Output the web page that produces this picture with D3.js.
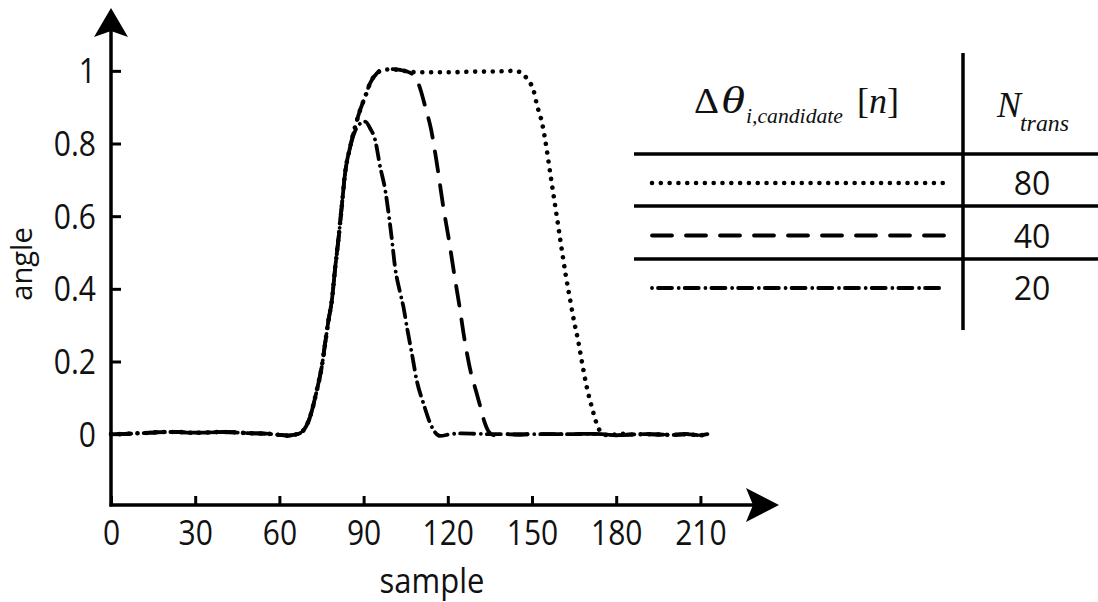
<!DOCTYPE html>
<html>
<head>
<meta charset="utf-8">
<script src="https://cdn.jsdelivr.net/npm/d3@7"></script>
<style>
    html, body { margin: 0; padding: 0; background: #fff; }
    svg { display: block; }
</style>
</head>
<body>
<div id="chart"></div>
<script>
// values
const sampleTicks = [0, 30, 60, 90, 120, 150, 180, 210];
const angleTicks = [0, 0.2, 0.4, 0.6, 0.8, 1];
const nTrans = [80, 40, 20];

const samples80 = [0, 4, 8, 12, 16, 20, 24, 28, 32, 36, 40, 44, 48, 52, 56, 60, 63, 65, 67.4, 70.9,
    73.3, 75.1, 76.3, 77.5, 78.7, 79.9, 81, 82.2, 83.4, 85.2,
    87, 88.8, 90.6, 92.3, 94.7, 97, 100, 103, 106, 110, 115, 120, 125, 130, 135, 140, 143.5, 146.2, 148.5, 150.6,
    151.8, 153.6, 154.7, 156.5, 158.3, 160.1, 161.9, 163.6, 165, 166.5, 168, 169.5, 171.3, 173.7, 175.5, 178, 181, 185, 190, 195,
    200, 205, 210, 212.5];
const angle80 = [0, 0, 0.002, 0.003, 0.005, 0.006, 0.006, 0.004, 0.004, 0.005, 0.006, 0.005, 0.003, 0.002, 0.001, -0.002, -0.004, -0.002, 0.003, 0.047,
    0.12, 0.186, 0.25, 0.314, 0.369, 0.46, 0.534, 0.626, 0.718, 0.79,
    0.847, 0.893, 0.93, 0.966, 0.993, 1.003, 1.004, 1.002, 0.998, 0.996, 0.996, 0.996, 0.997, 0.998, 0.998, 0.999, 1.0, 0.995, 0.975, 0.945,
    0.905, 0.856, 0.81, 0.718, 0.626, 0.534, 0.443, 0.369, 0.31, 0.255, 0.19, 0.13, 0.075, 0.016, 0, -0.004, 0.002, -0.001, 0, -0.001,
    -0.002, 0, -0.003, 0];

const samples40 = [0, 4, 8, 12, 16, 20, 24, 28, 32, 36, 40, 44, 48, 52, 56, 60, 63, 65, 67.4, 70.9,
    73.3, 75.1, 76.3, 77.5, 78.7, 79.9, 81, 82.2, 83.4, 85.2,
    87, 88.8, 90.6, 92.3, 94.7, 97, 100, 103, 105.5, 107.5, 109, 110.2, 112, 114, 116, 118.4, 120.5, 122.3, 124.2, 125.8,
    128.2, 130, 131.6, 133, 134.5, 136.5, 140, 145, 150, 155, 160, 165, 170, 175, 180, 185, 190, 195, 200, 205,
    210, 212.5];
const angle40 = [0, 0, 0.002, 0.003, 0.005, 0.006, 0.006, 0.004, 0.004, 0.005, 0.006, 0.005, 0.003, 0.002, 0.001, -0.002, -0.004, -0.002, 0.003, 0.047,
    0.12, 0.186, 0.25, 0.314, 0.369, 0.46, 0.534, 0.626, 0.718, 0.79,
    0.847, 0.893, 0.93, 0.966, 0.993, 1.003, 1.005, 1.003, 0.998, 0.99, 0.975, 0.95, 0.9, 0.84, 0.75, 0.625, 0.53, 0.44, 0.35, 0.268,
    0.17, 0.12, 0.075, 0.035, 0.008, -0.003, 0, -0.001, 0, 0, 0, 0, 0.001, 0, -0.003, -0.001, 0, -0.001, -0.002, 0,
    -0.003, 0];

const samples20 = [0, 4, 8, 12, 16, 20, 24, 28, 32, 36, 40, 44, 48, 52, 56, 60, 63, 65, 67.4, 70.9,
    73.3, 75.1, 76.3, 77.5, 78.7, 79.9, 81, 82.2, 83.4, 85.2,
    87, 88.8, 90.6, 92.3, 94.1, 95.9, 97.7, 98.9, 100.1, 101.2, 103, 104.2, 105.4, 107.2, 108.9, 111.3, 114.3, 117.3, 120.9, 125,
    130, 135, 140, 145, 150, 155, 160, 165, 170, 175, 180, 185, 190, 195, 200, 205, 210, 212.5];
const angle20 = [0, 0, 0.002, 0.003, 0.005, 0.006, 0.006, 0.004, 0.004, 0.005, 0.006, 0.005, 0.003, 0.002, 0.001, -0.002, -0.004, -0.002, 0.003, 0.047,
    0.12, 0.186, 0.25, 0.314, 0.369, 0.46, 0.534, 0.626, 0.718, 0.79,
    0.835, 0.855, 0.86, 0.842, 0.81, 0.736, 0.672, 0.608, 0.534, 0.46, 0.39, 0.35, 0.296, 0.222, 0.149, 0.085, 0.02, -0.005, 0, 0.002,
    0.001, 0, 0, -0.001, 0, 0, 0, 0, 0.001, 0, -0.003, -0.001, 0, -0.001, -0.002, 0, -0.003, 0];

const width = 1098;
const height = 602;
const font = '"Open Sans", "DejaVu Sans", sans-serif';
const serif = '"Liberation Serif", "DejaVu Serif", serif';

const styles = {
    80: { dash: '0.01 8.8', cap: 'round', w: 4.6 },
    40: { dash: '20 14', cap: 'round', w: 3.8 },
    20: { dash: '0.01 6 14 6.7', cap: 'round', w: 3.8 }
};

const svg = d3.select('#chart')
    .append('svg')
    .attr('width', width)
    .attr('height', height);

const x = d3.scaleLinear()
    .domain([0, 238])
    .range([111, 779]);

const y = d3.scaleLinear()
    .domain([-0.195, 1.173])
    .range([505, 8]);

const x0 = x(0);
const yBase = y.range()[0];

// Axes (ticks point inward)
const yAxis = svg.append('g')
    .attr('transform', `translate(${x0},0)`)
    .call(d3.axisLeft(y).tickValues(angleTicks).tickSizeInner(-10).tickSizeOuter(0).tickPadding(15).tickFormat(d => String(d)));

const xAxis = svg.append('g')
    .attr('transform', `translate(0,${yBase})`)
    .call(d3.axisBottom(x).tickValues(sampleTicks).tickSizeInner(-9).tickSizeOuter(0).tickPadding(19).tickFormat(d => String(d)));

[yAxis, xAxis].forEach(a => {
    a.select('.domain').remove();
    a.selectAll('line').attr('stroke', '#000').attr('stroke-width', 3);
    a.selectAll('text')
        .attr('fill', '#111')
        .style('font-family', font)
        .style('font-size', '30px');
});

// the source figure is slightly stretched vertically
yAxis.selectAll('text')
    .attr('dy', null)
    .attr('transform', 'translate(0,12) scale(1,1.15)');

xAxis.selectAll('text')
    .attr('y', 0)
    .attr('dy', null)
    .attr('transform', 'translate(0,40) scale(1,1.15)');

svg.append('line')
    .attr('x1', x0).attr('x2', x0)
    .attr('y1', yBase + 1.5).attr('y2', y.range()[1] + 20)
    .attr('stroke', '#000').attr('stroke-width', 3.5);

svg.append('line')
    .attr('x1', x0 - 1.5).attr('x2', x.range()[1] - 20)
    .attr('y1', yBase).attr('y2', yBase)
    .attr('stroke', '#000').attr('stroke-width', 3.5);

// Arrow heads
const yTip = y.range()[1];
svg.append('path')
    .attr('d', `M${x0},${yTip} L${x0 + 17},${yTip + 29} L${x0},${yTip + 23} L${x0 - 17},${yTip + 29} Z`)
    .attr('fill', '#000');

const xTip = x.range()[1];
svg.append('path')
    .attr('d', `M${xTip},${yBase} L${xTip - 33},${yBase - 17} L${xTip - 26},${yBase} L${xTip - 33},${yBase + 17} Z`)
    .attr('fill', '#000');

// Axis titles
svg.append('text')
    .attr('transform', `translate(32, 264) rotate(-90) scale(1.04,1.05)`)
    .attr('text-anchor', 'middle')
    .attr('fill', '#111')
    .style('font-family', font)
    .style('font-size', '28px')
    .text('angle');

svg.append('text')
    .attr('transform', 'translate(432,593) scale(1,1.1)')
    .attr('text-anchor', 'middle')
    .attr('fill', '#111')
    .style('font-family', font)
    .style('font-size', '31px')
    .text('sample');

// Curves
const series = [
    { n: 80, s: samples80, v: angle80 },
    { n: 40, s: samples40, v: angle40 },
    { n: 20, s: samples20, v: angle20 }
];

const line = d3.line()
    .x(d => x(d[0]))
    .y(d => y(d[1]))
    .curve(d3.curveMonotoneX);

svg.selectAll('.curve')
    .data(series)
    .enter()
    .append('path')
    .attr('class', 'curve')
    .attr('d', d => line(d3.zip(d.s, d.v)))
    .attr('fill', 'none')
    .attr('stroke', '#000')
    .attr('stroke-width', d => styles[d.n].w)
    .attr('stroke-linecap', d => styles[d.n].cap)
    .attr('stroke-dasharray', d => styles[d.n].dash);

// Legend table
const rowY = d3.scalePoint()
    .domain(nTrans)
    .range([183, 288]);

const table = svg.append('g');

[154, 206, 259].forEach(ly => {
    table.append('line')
        .attr('x1', 634).attr('x2', width)
        .attr('y1', ly).attr('y2', ly)
        .attr('stroke', '#000').attr('stroke-width', 3.5);
});

table.append('line')
    .attr('x1', 963).attr('x2', 963)
    .attr('y1', 53).attr('y2', 330)
    .attr('stroke', '#000').attr('stroke-width', 3.5);

table.selectAll('.swatch')
    .data(nTrans)
    .enter()
    .append('line')
    .attr('class', 'swatch')
    .attr('x1', 652).attr('x2', 944)
    .attr('y1', d => rowY(d)).attr('y2', d => rowY(d))
    .attr('stroke', '#000')
    .attr('stroke-width', d => styles[d].w)
    .attr('stroke-linecap', d => styles[d].cap)
    .attr('stroke-dasharray', d => styles[d].dash);

table.selectAll('.num')
    .data(nTrans)
    .enter()
    .append('text')
    .attr('class', 'num')
    .attr('transform', d => `translate(1032,${rowY(d) + 12}) scale(1,1.05)`)
    .attr('text-anchor', 'middle')
    .attr('fill', '#111')
    .style('font-family', font)
    .style('font-size', '32px')
    .text(d => d);

// Header: Δθ_{i,candidate} [n]  and  N_trans
const hdr = table.append('g')
    .attr('fill', '#111')
    .style('font-family', serif);

hdr.append('text')
    .attr('x', 694).attr('y', 113)
    .attr('textLength', 25)
    .attr('lengthAdjust', 'spacingAndGlyphs')
    .style('font-size', '36px')
    .text('Δ');

hdr.append('text')
    .attr('x', 721).attr('y', 113)
    .attr('textLength', 24)
    .attr('lengthAdjust', 'spacingAndGlyphs')
    .style('font-size', '38px')
    .style('font-style', 'italic')
    .text('θ');

hdr.append('text')
    .attr('x', 746).attr('y', 123)
    .attr('textLength', 97)
    .attr('lengthAdjust', 'spacingAndGlyphs')
    .style('font-size', '22px')
    .style('font-style', 'italic')
    .text('i,candidate');

const bracket = hdr.append('text')
    .attr('x', 857).attr('y', 113)
    .style('font-size', '36px');
bracket.append('tspan').text('[');
bracket.append('tspan').style('font-style', 'italic').text('n');
bracket.append('tspan').text(']');

hdr.append('text')
    .attr('x', 997).attr('y', 117)
    .style('font-size', '36px')
    .style('font-style', 'italic')
    .text('N');

hdr.append('text')
    .attr('x', 1020).attr('y', 131)
    .attr('textLength', 49)
    .attr('lengthAdjust', 'spacingAndGlyphs')
    .style('font-size', '23px')
    .style('font-style', 'italic')
    .text('trans');
</script>
</body>
</html>
